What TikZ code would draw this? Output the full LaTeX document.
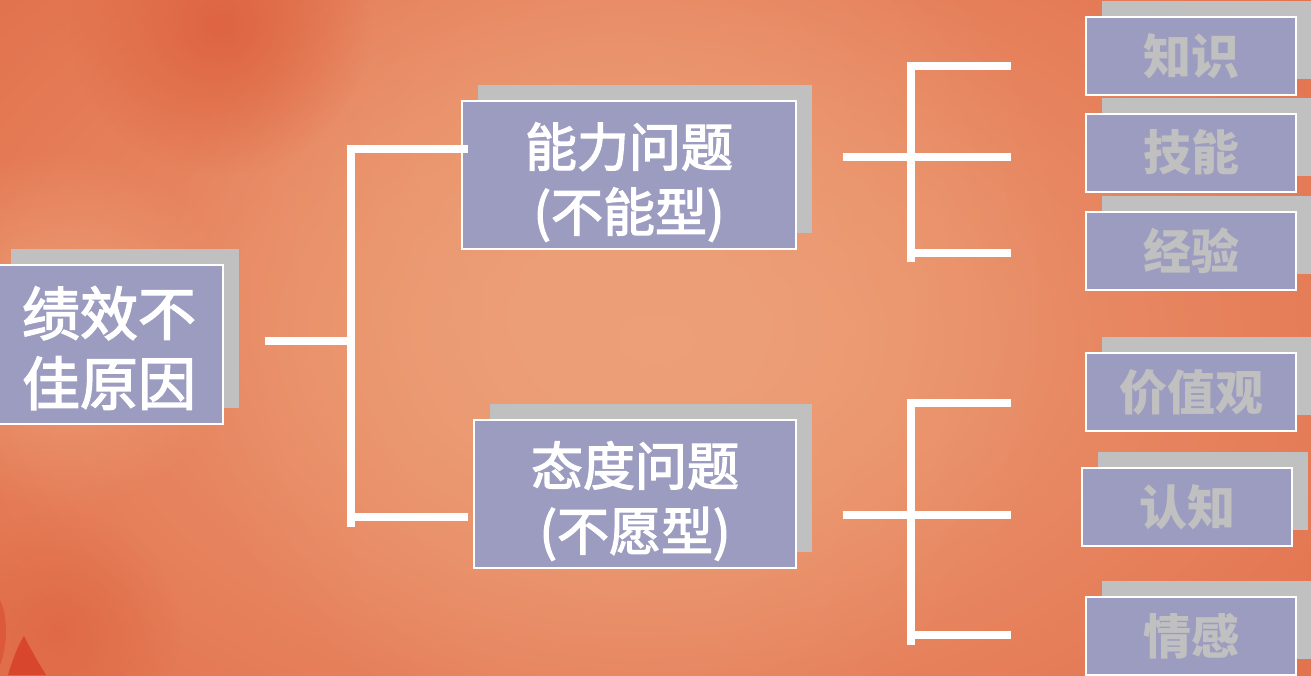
\documentclass[tikz,border=0pt]{standalone}
\usepackage{fontspec}
\newfontfamily\cjk[FakeBold=2.5]{Noto Sans CJK SC}
\newfontfamily\cjkleaf{Noto Sans CJK SC}
\usetikzlibrary{shadows,fadings}
\definecolor{boxfill}{RGB}{156,156,192}
\definecolor{shadowgray}{RGB}{192,192,192}
\definecolor{greytext}{RGB}{192,192,192}
\definecolor{bglight}{RGB}{237,160,120}
\definecolor{bgdark}{RGB}{226,114,78}
\definecolor{bgred}{RGB}{222,100,66}
\definecolor{flame}{RGB}{216,70,46}
\newcommand\tstrut[1]{\rule{0pt}{#1}}
\tikzfading[name=blob, inner color=transparent!0, outer color=transparent!100]
\tikzset{
  box/.style={draw=white, line width=2pt, fill=boxfill, inner sep=0pt, align=center,
    general shadow={fill=shadowgray, shadow xshift=16pt, shadow yshift=16pt}},
  bigtxt/.style={text=white, font=\cjk\fontsize{58}{70}\selectfont},
  midtxt/.style={text=white, font=\cjk\fontsize{52}{65}\selectfont},
  leaf/.style={box, minimum width=210pt, minimum height=78pt, text=greytext,
    font=\cjkleaf\bfseries\fontsize{48}{56}\selectfont},
  conn/.style={draw=white, line width=8pt, line cap=butt, line join=miter},
}
\begin{document}
\begin{tikzpicture}[x=1pt,y=-1pt]
\useasboundingbox (0,0) rectangle (1311,675);
% background
\shade[inner color=bglight, outer color=bgdark] (-200,-200) rectangle (1511,875);
\fill[bglight, path fading=blob] (620,300) circle (460);
\fill[bglight, path fading=blob] (60,330) circle (180);
\fill[bgred, path fading=blob] (220,25) circle (150);
\fill[bgred, opacity=0.7, path fading=blob] (60,630) circle (120);
\fill[flame] (8,675) .. controls (14,655) and (20,642) .. (24,636) .. controls (30,648) and (38,662) .. (46,675) -- cycle;
\fill[flame, opacity=0.5] (0,600) .. controls (8,615) and (8,645) .. (0,665) -- cycle;

% nodes
\node[box, bigtxt, minimum width=228pt, minimum height=159pt] (L) at (109,344.5) {\tstrut{56pt}绩效不\\佳原因};
\node[box, midtxt, minimum width=334pt, minimum height=148pt] (A) at (629,175) {\tstrut{58pt}能力问题\\(不能型)};
\node[box, midtxt, minimum width=322pt, minimum height=148pt] (B) at (635,494) {\tstrut{58pt}态度问题\\(不愿型)};

\node[leaf] (k1) at (1191,56) {知识};
\node[leaf] (k2) at (1191,152.5) {技能};
\node[leaf] (k3) at (1191,251) {经验};
\node[leaf] (k4) at (1191,392) {价值观};
\node[leaf] (k5) at (1187,507) {认知};
\node[leaf] (k6) at (1191,636) {情感};

% left bracket
\coordinate (l0) at (265,341);
\coordinate (lj) at (351,341);
\coordinate (lt) at (351,145);
\coordinate (lb) at (351,527);
\coordinate (la) at (468,149);
\coordinate (lbb) at (468,517);
\draw[conn] (l0) -- (lj);
\draw[conn] (lt) -- (lb);
\draw[conn] (lt |- la) -- (la);
\draw[conn] (lt |- lbb) -- (lbb);

% right top bracket
\coordinate (r1s) at (843,156.5);
\coordinate (r1e) at (1011,156.5);
\coordinate (r1t) at (911,62);
\coordinate (r1b) at (911,262);
\coordinate (r1a) at (1011,66);
\coordinate (r1c) at (1011,253);
\draw[conn] (r1s) -- (r1e);
\draw[conn] (r1t) -- (r1b);
\draw[conn] (r1t |- r1a) -- (r1a);
\draw[conn] (r1t |- r1c) -- (r1c);

% right bottom bracket
\coordinate (r2s) at (843,515);
\coordinate (r2e) at (1011,515);
\coordinate (r2t) at (911,399);
\coordinate (r2b) at (911,645);
\coordinate (r2a) at (1011,403);
\coordinate (r2c) at (1011,635);
\draw[conn] (r2s) -- (r2e);
\draw[conn] (r2t) -- (r2b);
\draw[conn] (r2t |- r2a) -- (r2a);
\draw[conn] (r2t |- r2c) -- (r2c);
\end{tikzpicture}
\end{document}
